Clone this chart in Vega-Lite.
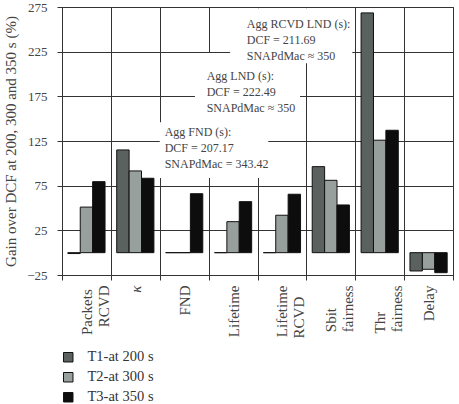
{
  "$schema": "https://vega.github.io/schema/vega-lite/v6.json",
  "autosize": {"type": "none"},
  "padding": {"left": 62, "top": 7, "right": 6, "bottom": 129},
  "width": 391,
  "height": 268,
  "background": "white",
  "config": {
    "font": "Liberation Serif",
    "text": {"font": "Liberation Serif"},
    "view": {"stroke": "#444", "strokeWidth": 1},
    "axis": {
      "gridColor": "#333",
      "gridWidth": 1,
      "gridOpacity": 1,
      "domainColor": "#333",
      "tickColor": "#333",
      "labelFont": "Liberation Serif",
      "titleFont": "Liberation Serif",
      "labelColor": "#444",
      "titleColor": "#444",
      "titleFontWeight": "normal"
    },
    "legend": {
      "labelFont": "Liberation Serif",
      "titleFont": "Liberation Serif",
      "labelColor": "#333"
    }
  },
  "datasets": {
    "gain": [
      {"metric": "Packets\u00a0\u200b|RCVD", "series": "T1-at 200 s", "value": -1},
      {"metric": "Packets\u00a0\u200b|RCVD", "series": "T2-at 300 s", "value": 51},
      {"metric": "Packets\u00a0\u200b|RCVD", "series": "T3-at 350 s", "value": 79.5},
      {"metric": "κ", "series": "T1-at 200 s", "value": 115},
      {"metric": "κ", "series": "T2-at 300 s", "value": 91.5},
      {"metric": "κ", "series": "T3-at 350 s", "value": 83.3},
      {"metric": "FND", "series": "T1-at 200 s", "value": 0},
      {"metric": "FND", "series": "T2-at 300 s", "value": 0},
      {"metric": "FND", "series": "T3-at 350 s", "value": 66},
      {"metric": "Lifetime", "series": "T1-at 200 s", "value": 0},
      {"metric": "Lifetime", "series": "T2-at 300 s", "value": 34.7},
      {"metric": "Lifetime", "series": "T3-at 350 s", "value": 57.1},
      {"metric": "Lifetime|RCVD\u00a0\u00a0\u00a0\u200b", "series": "T1-at 200 s", "value": 0},
      {"metric": "Lifetime|RCVD\u00a0\u00a0\u00a0\u200b", "series": "T2-at 300 s", "value": 41.9},
      {"metric": "Lifetime|RCVD\u00a0\u00a0\u00a0\u200b", "series": "T3-at 350 s", "value": 65.4},
      {"metric": "Sbit\u00a0\u00a0\u00a0\u00a0\u00a0\u00a0\u200b|fairness", "series": "T1-at 200 s", "value": 96.3},
      {"metric": "Sbit\u00a0\u00a0\u00a0\u00a0\u00a0\u00a0\u200b|fairness", "series": "T2-at 300 s", "value": 81},
      {"metric": "Sbit\u00a0\u00a0\u00a0\u00a0\u00a0\u00a0\u200b|fairness", "series": "T3-at 350 s", "value": 53.4},
      {"metric": "Thr\u00a0\u00a0\u00a0\u00a0\u00a0\u00a0\u00a0\u200b|fairness", "series": "T1-at 200 s", "value": 268.4},
      {"metric": "Thr\u00a0\u00a0\u00a0\u00a0\u00a0\u00a0\u00a0\u200b|fairness", "series": "T2-at 300 s", "value": 125.9},
      {"metric": "Thr\u00a0\u00a0\u00a0\u00a0\u00a0\u00a0\u00a0\u200b|fairness", "series": "T3-at 350 s", "value": 137},
      {"metric": "Delay", "series": "T1-at 200 s", "value": -20.5},
      {"metric": "Delay", "series": "T2-at 300 s", "value": -18.6},
      {"metric": "Delay", "series": "T3-at 350 s", "value": -22.4}
    ],
    "notes": [
      {"note": "FND", "x": 2.0, "x2": 4.22, "y": 146, "y2": 83.6, "tx": 2.1, "ty": 135.5, "text": "Agg FND (s):\nDCF = 207.17\nSNAPdMac = 343.42"},
      {"note": "LND", "x": 2.72, "x2": 4.87, "y": 223.6, "y2": 140, "tx": 2.96, "ty": 198, "text": "Agg LND (s):\nDCF = 222.49\nSNAPdMac ≈ 350"},
      {"note": "RCVD LND", "x": 3.44, "x2": 5.94, "y": 273.5, "y2": 212, "tx": 3.78, "ty": 256, "text": "Agg RCVD LND (s):\nDCF = 211.69\nSNAPdMac ≈ 350"}
    ]
  },
  "resolve": {"scale": {"x": "independent"}},
  "layer": [
    {
      "data": {"name": "notes"},
      "mark": {"type": "rect", "fill": "white", "stroke": null},
      "encoding": {
        "x": {"field": "x", "type": "quantitative", "scale": {"domain": [0, 8], "nice": false, "zero": false}, "axis": null},
        "x2": {"field": "x2"},
        "y": {"field": "y", "type": "quantitative", "scale": {"domain": [-25, 275], "nice": false, "zero": false}},
        "y2": {"field": "y2"}
      }
    },
    {
      "data": {"name": "gain"},
      "mark": {"type": "bar", "stroke": "#111", "strokeWidth": 1},
      "encoding": {
        "x": {
          "field": "metric",
          "type": "nominal",
          "sort": null,
          "scale": {"padding": 0},
          "axis": {
            "title": null,
            "grid": true,
            "tickBand": "extent",
            "labelAngle": -90,
            "labelAlign": "right",
            "labelBaseline": "middle",
            "labelFontSize": 15,
            "labelLineHeight": 17,
            "labelPadding": 5,
            "labelFontStyle": {"condition": {"test": "datum.label == 'κ'", "value": "italic"}, "value": "normal"},
            "tickSize": 5,
            "domain": true,
            "labelExpr": "split(datum.label, '|')"
          }
        },
        "xOffset": {
          "field": "series",
          "type": "nominal",
          "scale": {"paddingInner": 0, "paddingOuter": 0.47}
        },
        "y": {
          "field": "value",
          "type": "quantitative",
          "scale": {"domain": [-25, 275], "nice": false, "zero": false},
          "axis": {
            "title": "Gain over DCF at 200, 300 and 350 s (%)",
            "titleFontSize": 15,
            "titlePadding": 8,
            "values": [-25, 25, 75, 125, 175, 225, 275],
            "labelFontSize": 13,
            "labelPadding": 10,
            "tickSize": 5,
            "grid": true
          }
        },
        "y2": {"datum": 0},
        "color": {
          "field": "series",
          "type": "nominal",
          "scale": {"range": ["#5a615f", "#98a09e", "#0d0d0d"]},
          "legend": {
            "title": null,
            "orient": "none",
            "legendX": -1,
            "legendY": 343,
            "direction": "vertical",
            "padding": 0,
            "symbolType": "square",
            "symbolSize": 90,
            "symbolStrokeColor": "#111",
            "symbolStrokeWidth": 1,
            "symbolOpacity": 1,
            "labelFont": "Liberation Serif",
            "labelFontSize": 14.5,
            "labelOffset": 12,
            "rowPadding": 5
          }
        }
      }
    },
    {
      "mark": {"type": "rule", "color": "#222", "strokeWidth": 1.2},
      "encoding": {"y": {"datum": 0}}
    },
    {
      "data": {"name": "notes"},
      "mark": {"type": "text", "align": "left", "baseline": "middle", "lineBreak": "\n", "lineHeight": 16, "fontSize": 12, "color": "#444", "font": "Liberation Serif"},
      "encoding": {
        "x": {"field": "tx", "type": "quantitative", "scale": {"domain": [0, 8], "nice": false, "zero": false}, "axis": null},
        "y": {"field": "ty", "type": "quantitative"},
        "text": {"field": "text"}
      }
    }
  ]
}
